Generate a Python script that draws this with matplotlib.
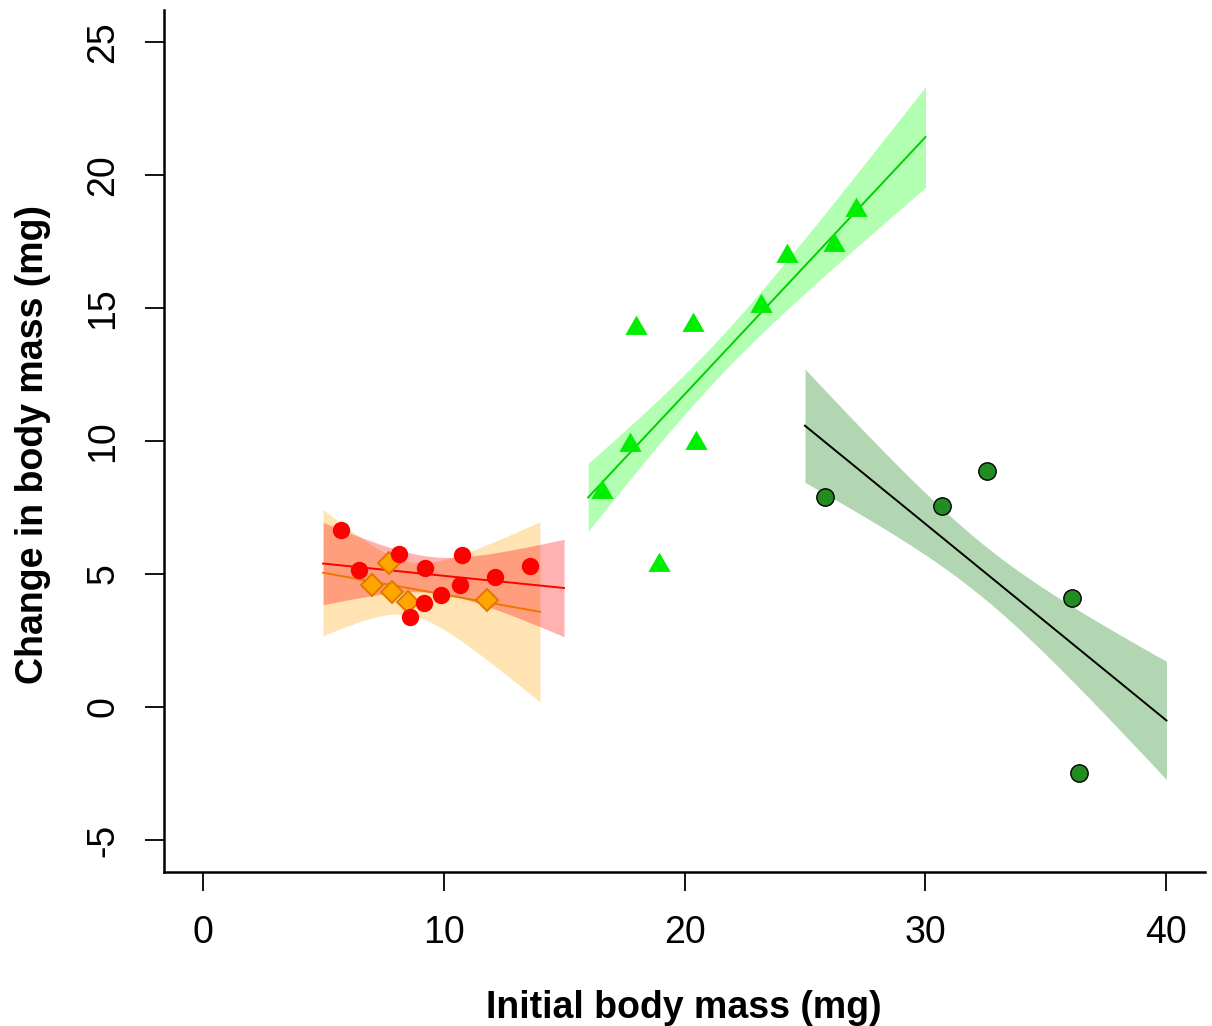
import numpy as np
import matplotlib.pyplot as plt

plt.rcParams['axes.unicode_minus'] = False

# points (initial mass, change in mass), in mg
red_x = [5.76, 6.51, 8.17, 9.22, 10.76, 10.69, 12.12, 13.60, 9.90, 9.21, 8.62]
red_y = [6.65, 5.14, 5.77, 5.22, 5.73, 4.59, 4.88, 5.32, 4.20, 3.90, 3.38]

orange_x = [7.72, 7.04, 7.87, 8.53, 11.81]
orange_y = [5.43, 4.58, 4.34, 3.93, 4.03]

green_x = [16.58, 17.72, 17.97, 18.96, 20.34, 20.48, 23.18, 24.26, 26.22, 27.10]
green_y = [8.10, 9.85, 14.25, 5.35, 14.35, 9.91, 15.08, 16.94, 17.38, 18.67]

dgreen_x = [25.81, 30.68, 32.56, 36.07, 36.39]
dgreen_y = [7.89, 7.55, 8.87, 4.09, -2.49]

# x-range over which each fitted line / band is drawn
red_range = (5, 15)
orange_range = (5, 14)
green_range = (16, 30)
dgreen_range = (25, 40)

groups = [
    # x, y, range, band colour, band alpha, line colour
    (orange_x, orange_y, orange_range, 'orange', 0.30, '#EE7600'),
    (red_x, red_y, red_range, 'red', 0.30, 'red'),
    (green_x, green_y, green_range, '#00FF00', 0.30, '#00D000'),
    (dgreen_x, dgreen_y, dgreen_range, 'forestgreen', 0.35, 'black'),
]

# separate slope per group, pooled residual variance (like lm(y ~ x * group))
fits = []
ss_res, n_tot = 0.0, 0
for gx, gy, rng, *_ in groups:
    gx, gy = np.asarray(gx), np.asarray(gy)
    slope, icpt = np.polyfit(gx, gy, 1)
    ss_res += np.sum((gy - (icpt + slope * gx)) ** 2)
    n_tot += len(gx)
    fits.append((slope, icpt, gx.mean(), np.sum((gx - gx.mean()) ** 2), len(gx)))
s_pooled = np.sqrt(ss_res / (n_tot - 2 * len(groups)))

fig = plt.figure(figsize=(12.12, 10.26), dpi=100)
ax = fig.add_axes([164 / 1212, 1 - 872 / 1026, (1205 - 164) / 1212, (872 - 10) / 1026])

# bands (+/- 1 SE) and fitted lines
for (gx, gy, rng, bcol, balpha, lcol), (slope, icpt, xbar, sxx, n) in zip(groups, fits):
    xs = np.linspace(rng[0], rng[1], 200)
    fit = icpt + slope * xs
    se = s_pooled * np.sqrt(1 / n + (xs - xbar) ** 2 / sxx)
    ax.fill_between(xs, fit - se, fit + se, color=bcol, alpha=balpha, lw=0, zorder=1)
for (gx, gy, rng, bcol, balpha, lcol), (slope, icpt, xbar, sxx, n) in zip(groups, fits):
    xs = np.array(rng, dtype=float)
    ax.plot(xs, icpt + slope * xs, color=lcol, lw=1.4, zorder=2)

# points
tri = [(0, 1), (-0.866, -0.5), (0.866, -0.5)]
ax.plot(orange_x, orange_y, 'D', ms=11.5, mfc='orange', mec='#E07800', mew=1.4,
        ls='none', zorder=3)
ax.plot(red_x, red_y, 'o', ms=12.5, mfc='red', mec='red', mew=0, ls='none', zorder=4)
ax.plot(green_x, green_y, marker=tri, ms=18.5, mfc='#00EE00', mec='#00EE00', mew=0,
        ls='none', zorder=4)
ax.plot(dgreen_x, dgreen_y, 'o', ms=12.5, mfc='forestgreen', mec='black', mew=1.0,
        ls='none', zorder=4)

# axes styling, R look with bty="l"
ax.set_xlim(-1.6, 41.6)
ax.set_ylim(-6.2, 26.2)
ax.set_xticks([0, 10, 20, 30, 40])
ax.set_yticks([-5, 0, 5, 10, 15, 20, 25])
for side in ['top', 'right']:
    ax.spines[side].set_visible(False)
for side in ['left', 'bottom']:
    ax.spines[side].set_linewidth(1.8)
ax.tick_params(direction='out', length=13.7, width=1.3, pad=17, labelsize=27)
ax.tick_params(axis='y', labelrotation=90)
for lab in ax.get_yticklabels():
    lab.set_verticalalignment('center')
    lab.set_family('Liberation Sans')
for lab in ax.get_xticklabels():
    lab.set_family('Liberation Sans')

fig.text(684 / 1212, 1 - 1018 / 1026, 'Initial body mass (mg)', ha='center',
         va='baseline', fontsize=27, fontweight='bold', family='Liberation Sans')
fig.text(43 / 1212, 1 - 444 / 1026, 'Change in body mass (mg)', ha='center',
         va='baseline', rotation=90, rotation_mode='anchor', fontsize=27,
         fontweight='bold', family='Liberation Sans')

fig.savefig('out.png', dpi=100)
